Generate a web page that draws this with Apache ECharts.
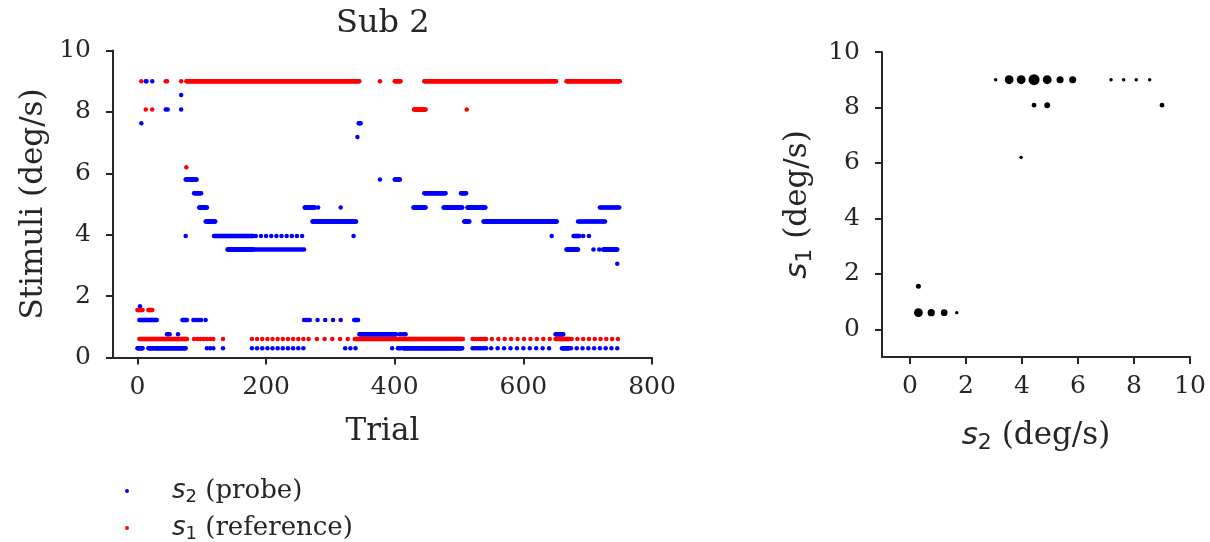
<!DOCTYPE html>
<html>
<head>
<meta charset="utf-8">
<script src="https://cdn.jsdelivr.net/npm/echarts@6/dist/echarts.min.js"></script>
<style>
html, body { margin: 0; padding: 0; background: #fff; }
#chart { width: 1210px; height: 542px; }
</style>
</head>
<body>
<div id="chart"></div>
<script>
// runs: [first trial, last trial, value, trial step]
var probeRuns = [
    [13, 14, 9.0, 1], [23, 23, 9.0, 1],
    [68, 68, 8.55, 1],
    [44, 47, 8.08, 3], [68, 68, 8.08, 1],
    [6, 6, 7.63, 1], [344, 347, 7.63, 1],
    [342, 342, 7.18, 1],
    [75, 92, 5.8, 1], [377, 377, 5.8, 1], [400, 408, 5.8, 1],
    [88, 99, 5.35, 1], [446, 479, 5.35, 1], [503, 511, 5.35, 1],
    [96, 108, 4.89, 1], [260, 276, 4.89, 1], [281, 281, 4.89, 1], [316, 316, 4.89, 1],
    [429, 448, 4.89, 1], [476, 505, 4.89, 1], [513, 541, 4.89, 1], [719, 750, 4.89, 2],
    [106, 121, 4.43, 1], [272, 340, 4.43, 1], [508, 516, 4.43, 1], [538, 652, 4.43, 1], [685, 727, 4.43, 2],
    [75, 75, 3.96, 1], [119, 180, 3.96, 1], [184, 260, 3.96, 8], [336, 336, 3.96, 1],
    [644, 644, 3.96, 1], [678, 687, 3.96, 1], [693, 693, 3.96, 1], [702, 702, 3.96, 1],
    [140, 180, 3.52, 1], [181, 260, 3.52, 3], [667, 685, 3.52, 1], [709, 709, 3.52, 1],
    [718, 718, 3.52, 1], [724, 746, 3.52, 1],
    [746, 746, 3.05, 1],
    [4, 4, 1.67, 1],
    [3, 30, 1.22, 1], [70, 77, 1.22, 1], [87, 99, 1.22, 3], [106, 106, 1.22, 1],
    [259, 268, 1.22, 3], [280, 316, 1.22, 12], [337, 343, 1.22, 1],
    [46, 51, 0.76, 2], [63, 63, 0.76, 1], [345, 402, 0.76, 1], [408, 418, 0.76, 3], [650, 662, 0.76, 1],
    [0, 8, 0.3, 1], [17, 25, 0.3, 1], [27, 75, 0.3, 1], [108, 120, 0.3, 5], [133, 133, 0.3, 1],
    [178, 259, 0.3, 8], [323, 339, 0.3, 8], [396, 396, 0.3, 1], [405, 410, 0.3, 2],
    [413, 505, 0.3, 1], [521, 543, 0.3, 3], [550, 641, 0.3, 10], [660, 671, 0.3, 1], [674, 750, 0.3, 9]
];
var refRuns = [
    [6, 6, 9.0, 1], [44, 46, 9.0, 2], [68, 68, 9.0, 1], [76, 345, 9.0, 1], [377, 377, 9.0, 1],
    [400, 409, 9.0, 1], [446, 651, 9.0, 1], [667, 750, 9.0, 1],
    [13, 13, 8.08, 1], [23, 23, 8.08, 1], [430, 448, 8.08, 1], [512, 512, 8.08, 1],
    [76, 76, 6.2, 1],
    [0, 8, 1.55, 1], [17, 23, 1.55, 1],
    [3, 77, 0.6, 1], [88, 118, 0.6, 5], [133, 133, 0.6, 1], [178, 267, 0.6, 8], [279, 327, 0.6, 12],
    [338, 506, 0.6, 1], [521, 543, 0.6, 3], [551, 642, 0.6, 10], [650, 671, 0.6, 1], [675, 750, 0.6, 9]
];

// right panel: distinct (s2, s1) pairs and how often each occurred
var jointS2 = [3.06, 3.54, 3.97, 4.43, 4.90, 5.36, 5.81, 7.18, 7.63, 8.08, 8.56,
               4.43, 4.90, 9.0, 3.97, 0.30, 0.30, 0.76, 1.22, 1.67];
var jointS1 = [9, 9, 9, 9, 9, 9, 9, 9, 9, 9, 9,
               8.08, 8.08, 8.08, 6.2, 1.55, 0.6, 0.6, 0.6, 0.6];
var jointCount = [1, 120, 120, 200, 120, 70, 70, 1, 1, 1, 1,
                  20, 40, 20, 1, 25, 120, 75, 60, 1];

var xTicksLeft = [0, 200, 400, 600, 800];
var ticksRight = [0, 2, 4, 6, 8, 10];

function expand(runs) {
    var out = [];
    runs.forEach(function (r) {
        for (var t = r[0]; t <= r[1]; t += r[3]) out.push([t, r[2]]);
    });
    return out;
}

var jointData = jointS2.map(function (x, i) {
    return [x, jointS1[i], jointCount[i]];
});

var ink = '#262626';
var serif = 'DejaVu Serif';

function mathRich(size, lh) {
    return {
        g: { width: 38 },
        m: { fontFamily: 'DejaVu Sans', fontStyle: 'italic', fontSize: size, color: ink, lineHeight: lh },
        sub: { fontFamily: 'DejaVu Sans', fontSize: Math.round(size * 0.7), color: ink,
               verticalAlign: 'bottom', lineHeight: Math.round(lh * 0.56) },
        t: { fontFamily: serif, fontSize: size, color: ink, lineHeight: lh }
    };
}

function axis(opt) {
    var a = {
        type: 'value',
        gridIndex: opt.grid,
        min: opt.min,
        max: opt.max,
        splitLine: { show: false },
        axisLine: { show: true, onZero: false, lineStyle: { color: ink, width: 2 } },
        axisTick: { show: true, length: 7, lineStyle: { color: ink, width: 2 } },
        axisLabel: { color: ink, fontFamily: serif, fontSize: 25, margin: opt.margin },
        name: opt.name,
        nameLocation: 'middle',
        nameGap: opt.nameGap,
        nameTextStyle: { color: ink, fontFamily: serif, fontSize: 31, rich: mathRich(31, 36) }
    };
    if (opt.ticks) {
        a.axisTick.customValues = opt.ticks;
        a.axisLabel.customValues = opt.ticks;
    }
    if (opt.interval) a.interval = opt.interval;
    return a;
}

function legendRow(name, label, top) {
    return {
        left: 120,
        top: top,
        itemWidth: 4,
        itemHeight: 4,
        icon: 'circle',
        selectedMode: false,
        data: [name],
        formatter: function () { return label; },
        textStyle: { rich: mathRich(26, 30) }
    };
}

var chart = echarts.init(document.getElementById('chart'));
chart.setOption({
    animation: false,
    backgroundColor: '#fff',
    title: {
        text: 'Sub 2',
        left: 336,
        top: 8,
        padding: 0,
        textStyle: { color: ink, fontFamily: serif, fontSize: 32, fontWeight: 'normal' }
    },
    legend: [
        legendRow('s2 (probe)', '{g|}{m|s}{sub|2}{t| (probe)}', 473),
        legendRow('s1 (reference)', '{g|}{m|s}{sub|1}{t| (reference)}', 510)
    ],
    grid: [
        { left: 113, top: 50.5, width: 539, height: 307 },
        { left: 882, top: 52, width: 308, height: 305 }
    ],
    xAxis: [
        axis({ grid: 0, min: -38, max: 800, ticks: xTicksLeft, margin: 17,
               name: 'Trial', nameGap: 59 }),
        axis({ grid: 1, min: -1, max: 10, ticks: ticksRight, margin: 17,
               name: '{m|s}{sub|2}{t| (deg/s)}', nameGap: 61 })
    ],
    yAxis: [
        axis({ grid: 0, min: 0, max: 10, interval: 2, margin: 22,
               name: 'Stimuli (deg/s)', nameGap: 64 }),
        axis({ grid: 1, min: -1, max: 10, ticks: ticksRight, margin: 22,
               name: '{m|s}{sub|1}{t| (deg/s)}', nameGap: 66 })
    ],
    series: [
        {
            name: 's2 (probe)',
            type: 'scatter',
            xAxisIndex: 0, yAxisIndex: 0,
            symbolSize: 4.5,
            itemStyle: { color: '#0000ff', opacity: 1 },
            data: expand(probeRuns)
        },
        {
            name: 's1 (reference)',
            type: 'scatter',
            xAxisIndex: 0, yAxisIndex: 0,
            symbolSize: 4.5,
            itemStyle: { color: '#ff0000', opacity: 1 },
            data: expand(refRuns)
        },
        {
            name: 'joint',
            type: 'scatter',
            xAxisIndex: 1, yAxisIndex: 1,
            symbolSize: function (v) { return Math.sqrt(11.5 + 0.55 * v[2]); },
            itemStyle: { color: '#000000', opacity: 1 },
            data: jointData
        }
    ]
});
</script>
</body>
</html>
